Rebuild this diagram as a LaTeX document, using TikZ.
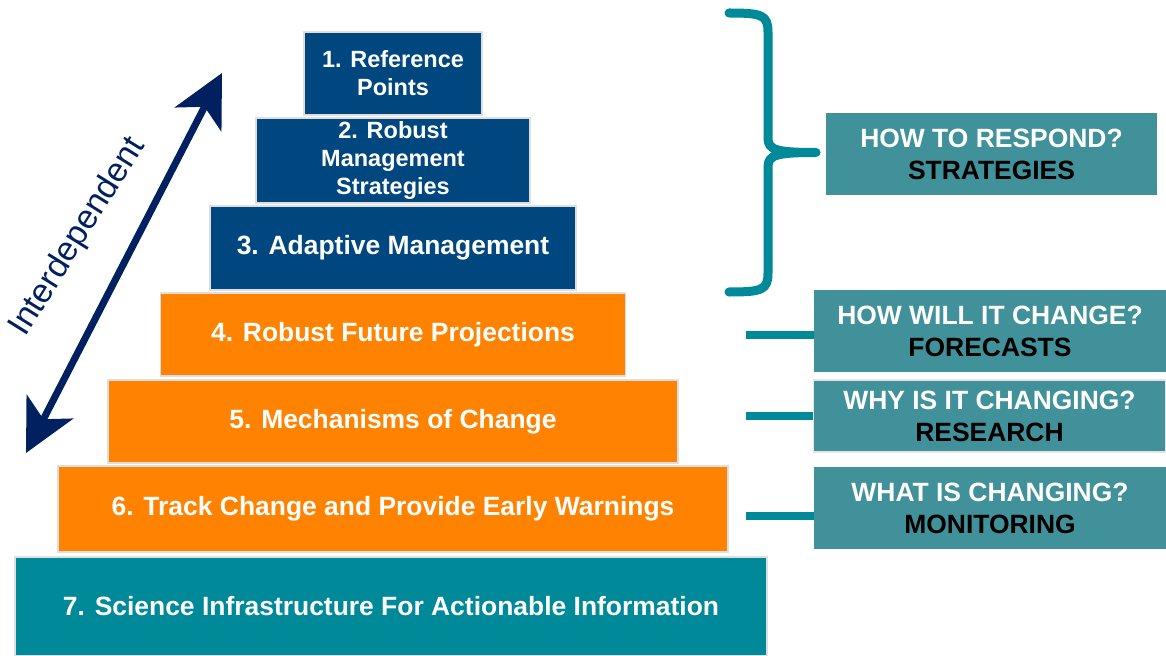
\documentclass[tikz,border=0pt]{standalone}
\usepackage{fontspec}
\setmainfont{Liberation Sans}
\usetikzlibrary{arrows.meta}
\definecolor{stepblue}{RGB}{0,71,127}
\definecolor{steporange}{RGB}{255,130,0}
\definecolor{stepteal}{RGB}{0,137,153}
\definecolor{qteal}{RGB}{64,145,153}
\definecolor{navy}{RGB}{0,32,96}
\begin{document}
\begin{tikzpicture}[x=.025cm,y=-.025cm,
    level/.style={draw=gray!25,line width=1.2pt,text=white,align=center,inner sep=0pt,
        font=\fontsize{18.8}{22}\bfseries},
    small/.style={font=\fontsize{16.7}{19.9}\bfseries},
    question/.style={fill=qteal,align=center,inner sep=0pt,text=white,
        font=\fontsize{18.8}{22.8}\bfseries},
    link/.style={stepteal,line width=.2cm}]
    \useasboundingbox (0,0) rectangle (1166,656);
    % pyramid
    \node[level,small,fill=stepblue,minimum width=4.45cm,minimum height=2.075cm] (l1) at (393,73.5) {1. Reference\\Points};
    \node[level,small,fill=stepblue,minimum width=6.85cm,minimum height=2.125cm] (l2) at (393,160.5) {2. Robust\\Management\\Strategies};
    \node[level,fill=stepblue,minimum width=9.15cm,minimum height=2.1cm] (l3) at (393,248) {3. Adaptive Management};
    \node[level,fill=steporange,minimum width=11.625cm,minimum height=2.075cm] (l4) at (393,334.5) {4. Robust Future Projections};
    \node[level,fill=steporange,minimum width=14.25cm,minimum height=2.075cm] (l5) at (393,421.5) {5. Mechanisms of Change};
    \node[level,fill=steporange,minimum width=16.75cm,minimum height=2.15cm] (l6) at (393,509) {6. Track Change and Provide Early Warnings};
    \node[level,fill=stepteal,minimum width=18.8cm,minimum height=2.475cm] (l7) at (391,606.5) {7. Science Infrastructure For Actionable Information};
    % questions
    \node[question,minimum width=8.275cm,minimum height=2.05cm] (q1) at (991.5,154) {HOW TO RESPOND?\\\textcolor{black}{STRATEGIES}};
    \node[question,minimum width=8.8cm,minimum height=2.05cm] (q2) at (990,331) {HOW WILL IT CHANGE?\\\textcolor{black}{FORECASTS}};
    \node[question,draw=gray!20,line width=1pt,minimum width=8.8cm,minimum height=1.8cm] (q3) at (989.5,416) {WHY IS IT CHANGING?\\\textcolor{black}{RESEARCH}};
    \node[question,minimum width=8.8cm,minimum height=2.05cm] (q4) at (990,508) {WHAT IS CHANGING?\\\textcolor{black}{MONITORING}};
    % links
    \coordinate (c2) at (746,335);
    \coordinate (c3) at (746,416);
    \coordinate (c4) at (746,516);
    \draw[link] (c2)--(c2-|q2.west);
    \draw[link] (c3)--(c3-|q3.west);
    \draw[link] (c4)--(c4-|q4.west);
    % brace
    \draw[stepteal,line width=.225cm,line cap=round,line join=round]
        (729,13) .. controls (762,13) and (768,15) .. (768,32) -- (768,138)
        .. controls (768,150) and (776,152.5) .. (816,152.5)
        .. controls (776,152.5) and (768,155) .. (768,167) -- (768,273)
        .. controls (768,290) and (762,292) .. (729,292);
    % arrow
    \coordinate (lo) at (26,453);
    \coordinate (hi) at (222,73);
    \draw[navy,line width=.175cm,{Stealth[length=1.3cm,width=1.3cm,inset=.35cm]}-{Stealth[length=1.3cm,width=1.3cm,inset=.35cm]}] (lo)--(hi);
    \node[navy,rotate=58,font=\fontsize{24}{24}\selectfont] (inter) at (78,237) {Interdependent};
\end{tikzpicture}
\end{document}
